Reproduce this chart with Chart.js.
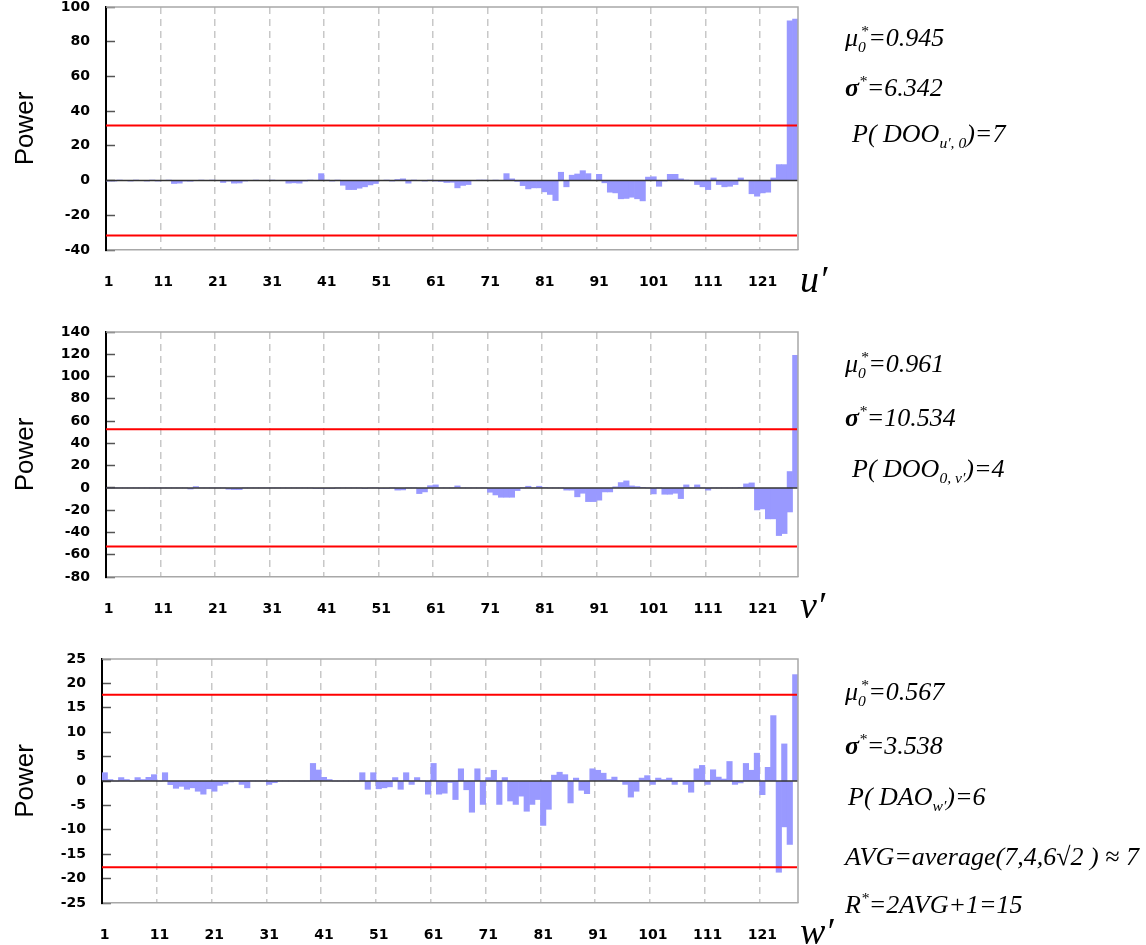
<!DOCTYPE html>
<html>
<head>
<meta charset="utf-8">
<script src="https://cdn.jsdelivr.net/npm/chart.js@4.4.1/dist/chart.umd.min.js"></script>
<style>
    body { margin: 0; background: #fff; width: 1146px; height: 945px; overflow: hidden; position: relative; }
    canvas { position: absolute; left: 0; }
    .note { position: absolute; font-family: "Liberation Serif", serif; font-style: italic; font-size: 26px; line-height: 1; white-space: nowrap; color: #000; }
    .note sub, .note sup { font-size: 0.6em; line-height: 0; }
    .note .bk { margin-left: -0.35em; }
    .sig { font-weight: bold; }
    .var { position: absolute; font-family: "Liberation Serif", serif; font-style: italic; font-size: 38px; line-height: 1; color: #000; }
</style>
</head>
<body>
<canvas id="chartU"></canvas>
<canvas id="chartV"></canvas>
<canvas id="chartW"></canvas>

<div class="note" style="left:845px;top:25px">&mu;<sub>0</sub><sup class="bk">*</sup>=0.945</div>
<div class="note" style="left:845px;top:75px"><span class="sig">&sigma;</span><sup>*</sup>=6.342</div>
<div class="note" style="left:852px;top:121px">P( DOO<sub>u&prime;, 0</sub>)=7</div>

<div class="note" style="left:845px;top:351px">&mu;<sub>0</sub><sup class="bk">*</sup>=0.961</div>
<div class="note" style="left:845px;top:405px"><span class="sig">&sigma;</span><sup>*</sup>=10.534</div>
<div class="note" style="left:852px;top:456px">P( DOO<sub>0, v&prime;</sub>)=4</div>

<div class="note" style="left:845px;top:679px">&mu;<sub>0</sub><sup class="bk">*</sup>=0.567</div>
<div class="note" style="left:845px;top:733px"><span class="sig">&sigma;</span><sup>*</sup>=3.538</div>
<div class="note" style="left:848px;top:784px">P( DAO<sub>w&prime;</sub>)=6</div>
<div class="note" style="left:845px;top:844px">AVG=average(7,4,6&radic;2 ) &asymp; 7</div>
<div class="note" style="left:845px;top:892px">R<sup>*</sup>=2AVG+1=15</div>

<div class="var" style="left:800px;top:260px">u&prime;</div>
<div class="var" style="left:800px;top:586px">v&prime;</div>
<div class="var" style="left:800px;top:912px">w&prime;</div>

<script>
// bar index along the x axis
const categories = [
    1, 2, 3, 4, 5, 6, 7, 8, 9, 10, 11, 12, 13, 14, 15, 16, 17, 18, 19, 20,
    21, 22, 23, 24, 25, 26, 27, 28, 29, 30, 31, 32, 33, 34, 35, 36, 37, 38, 39, 40,
    41, 42, 43, 44, 45, 46, 47, 48, 49, 50, 51, 52, 53, 54, 55, 56, 57, 58, 59, 60,
    61, 62, 63, 64, 65, 66, 67, 68, 69, 70, 71, 72, 73, 74, 75, 76, 77, 78, 79, 80,
    81, 82, 83, 84, 85, 86, 87, 88, 89, 90, 91, 92, 93, 94, 95, 96, 97, 98, 99, 100,
    101, 102, 103, 104, 105, 106, 107, 108, 109, 110, 111, 112, 113, 114, 115, 116, 117, 118, 119, 120,
    121, 122, 123, 124, 125, 126, 127
];
const tickLabels = ["1", "11", "21", "31", "41", "51", "61", "71", "81", "91", "101", "111", "121"];

// u' panel
const powerU = [
    -0.3, -0.2, 0.3, 0, -0.2, 0.3, 0, -0.2, 0.3, -0.2,
    0, 0.2, -1.7, -1.5, -0.3, -0.4, 0, 0.2, 0, 0.2,
    0, -1.1, -0.3, -1.5, -1.4, -0.2, 0, 0.2, 0, 0,
    0.2, 0, 0, -1.5, -1.3, -1.5, -0.3, 0.2, 0, 4.0,
    0.3, -0.2, 0.2, -2.7, -5.2, -5.2, -4.4, -3.6, -2.5, -1.7,
    0, 0.3, -0.2, 0.6, 1.0, -1.5, 0.3, 0, -0.2, 0.2,
    -0.3, -0.5, -1.1, -1.0, -4.2, -2.8, -2.3, 0, 0.3, 0.3,
    0, 0.2, 0, 4.0, 1.0, -0.5, -2.9, -4.8, -4.2, -4.2,
    -6.5, -8.0, -11.5, 4.8, -3.6, 3.1, 3.8, 5.7, 4.0, 0.2,
    3.6, -1.3, -6.7, -7.1, -10.5, -10.3, -9.6, -10.5, -11.7, 2.0,
    2.2, -3.3, -0.3, 3.6, 3.6, 1.0, 0.3, 0, -2.3, -3.6,
    -5.2, 1.5, -2.3, -3.6, -3.3, -2.3, 1.5, 0, -7.6, -9.0,
    -7.1, -6.7, 1.5, 9.2, 9.2, 92, 93
];
// v' panel
const powerV = [
    0, 0, 0, 0, 0, 0, 0, 0, 0, 0,
    0, 0, 0, 0, 0, -1.0, 1.2, 0, 0, 0,
    0, 0, -1.2, -1.5, -1.5, 0, 0, 0, 0, 0,
    0, 0, 0, 0, 0, 0, 0, 0, -0.3, -0.3,
    -0.3, -0.3, 0, 0, 0, 0, 0, -0.3, 0, 0,
    -0.3, -0.3, 0, -2.0, -1.8, 0, 0, -5.1, -3.6, 2.0,
    2.7, 0, 0, 0, 1.8, 0, 0, 0, 0, 0,
    -3.9, -6.3, -8.4, -8.4, -8.4, -2.4, 0, 1.5, 0, 1.5,
    0.5, 0, 0, 0, -2.0, -2.0, -8.0, -4.8, -12.3, -12.3,
    -11.0, -3.6, -3.6, 1.0, 4.8, 6.3, 1.8, 1.2, 0.3, 0,
    -5.4, 0, -5.7, -5.7, -4.8, -9.6, 2.7, 0, 2.7, 0,
    -2.0, 0, 0, 0, 0, 0, 0.3, 3.6, 4.5, -19.8,
    -18.9, -27.8, -27.8, -42.8, -41, [-21.6, 14.7], 119
];
// w' panel
const powerW = [
    1.7, 0.3, 0, 0.7, 0.3, 0, 0.7, 0.3, 0.75, 1.3,
    0, 1.7, -0.75, -1.5, -1.1, -1.7, -1.4, -2.1, -2.7, -1.6,
    -2.1, -0.9, -0.6, -0.2, -0.1, -0.7, -1.4, 0, 0, 0,
    -0.7, -0.35, 0, 0, 0, 0, 0, 0, 3.6, 2.25,
    0.75, 0.3, 0, 0, 0, 0, 0, 1.7, -1.7, 1.7,
    -1.6, -1.4, -1.2, 0.7, -1.7, 1.7, -0.7, 0.7, 0, -2.7,
    3.6, -2.7, -2.5, -0.3, -3.8, 2.5, -1.8, -6.4, 2.5, -4.8,
    0.7, 2.2, -4.8, 0.7, -4.1, -4.8, -3.1, -6.2, -4.8, -3.8,
    -9.1, -5.8, 1.2, 1.8, 1.3, -4.5, 0.6, -1.9, -2.6, 2.5,
    2.2, 1.6, 0.3, 0.8, 0, -0.7, -3.3, -2.1, 0.6, 1.1,
    -0.7, 0.6, 0.3, 0.6, -0.7, 0, -0.7, -2.3, 2.5, 3.2,
    -0.7, 2.3, 0.8, 0.4, 4.0, -0.7, -0.4, 3.6, 2.2, 5.7,
    -2.8, 2.8, 13.4, -18.7, [-9.4, 7.6], -13, 21.8
];

// +/- 5 sigma lines
const limitU = [31.71, -31.71];
const limitV = [52.67, -52.67];
const limitW = [17.69, -17.69];

// y axis: min, max, step
const rangeU = [-40, 100, 20];
const rangeV = [-80, 140, 20];
const rangeW = [-25, 25, 5];

/* zero line, red limit lines and the grey frame, drawn over the bars */
const limitLines = {
    id: "limits",
    afterDatasetsDraw(chart, args, opts) {
        const { ctx, chartArea: a, scales: { y } } = chart;
        ctx.save();
        ctx.lineWidth = 1.5;
        ctx.strokeStyle = "#333";
        let py = y.getPixelForValue(0);
        ctx.beginPath();
        ctx.moveTo(a.left, py);
        ctx.lineTo(a.right, py);
        ctx.stroke();

        ctx.lineWidth = 2;
        ctx.strokeStyle = "#ff0000";
        opts.values.forEach(function (v) {
            py = y.getPixelForValue(v);
            ctx.beginPath();
            ctx.moveTo(a.left, py);
            ctx.lineTo(a.right - 1, py);
            ctx.stroke();
        });

        ctx.lineWidth = 1.5;
        ctx.strokeStyle = "#a8a8a8";
        ctx.beginPath();
        ctx.moveTo(a.left, a.top);
        ctx.lineTo(a.right, a.top);
        ctx.lineTo(a.right, a.bottom);
        ctx.stroke();
        ctx.restore();
    },
};

// room above the plot for the top tick label (Chart.js adds tick padding there)
const headRoom = 40;

const panels = [
    { id: "chartU", data: powerU, limits: limitU, range: rangeU, bottom: 300, areaTop: 7, areaBottom: 250, left: 106 },
    { id: "chartV", data: powerV, limits: limitV, range: rangeV, bottom: 622, areaTop: 332, areaBottom: 577, left: 106 },
    { id: "chartW", data: powerW, limits: limitW, range: rangeW, bottom: 945, areaTop: 659, areaBottom: 903, left: 102 },
];

function makePanel(p) {
    const canvas = document.getElementById(p.id);
    const top = p.areaTop - headRoom;
    canvas.width = 1146;
    canvas.height = p.bottom - top;
    canvas.style.top = top + "px";

    return new Chart(canvas, {
        type: "bar",
        data: {
            labels: categories,
            datasets: [
                {
                    data: p.data,
                    backgroundColor: "#9999ff",
                    borderWidth: 0,
                    categoryPercentage: 1,
                    barPercentage: 1,
                },
            ],
        },
        options: {
            responsive: false,
            animation: false,
            layout: {
                padding: { top: headRoom, right: 1146 - 798, left: 0, bottom: 0 },
            },
            plugins: {
                legend: { display: false },
                tooltip: { enabled: false },
                limits: { values: p.limits },
            },
            scales: {
                x: {
                    offset: true,
                    grid: {
                        offset: true,
                        drawTicks: false,
                        lineWidth: 1.5,
                        color: function (c) {
                            return (c.index > 0 && c.index < categories.length && c.index % 10 === 0) ? "#c8c8c8" : "rgba(0,0,0,0)";
                        },
                    },
                    border: { color: "#a8a8a8", width: 1.5, dash: [7, 5] },
                    ticks: {
                        autoSkip: false,
                        maxRotation: 0,
                        minRotation: 0,
                        padding: 24,
                        color: "#000",
                        font: { family: "DejaVu Sans", size: 14, weight: "bold" },
                        callback: function (v, i) {
                            const s = String(categories[i]);
                            return tickLabels.includes(s) ? s : "";
                        },
                    },
                    afterFit: function (s) {
                        s.height = p.bottom - p.areaBottom;
                    },
                },
                y: {
                    min: p.range[0],
                    max: p.range[1],
                    grid: {
                        drawOnChartArea: false,
                        tickLength: -9,
                        tickColor: "#555",
                        tickWidth: 1.5,
                    },
                    border: { color: "#000", width: 2 },
                    ticks: {
                        stepSize: p.range[2],
                        padding: 25,
                        color: "#000",
                        font: { family: "DejaVu Sans", size: 14, weight: "bold" },
                    },
                    title: {
                        display: true,
                        text: "Power",
                        color: "#000",
                        font: { family: "Liberation Sans", size: 26 },
                        padding: { top: 10, bottom: 0 },
                    },
                    afterFit: function (s) {
                        s.width = p.left;
                    },
                },
            },
        },
        plugins: [limitLines],
    });
}

panels.forEach(makePanel);
</script>
</body>
</html>
